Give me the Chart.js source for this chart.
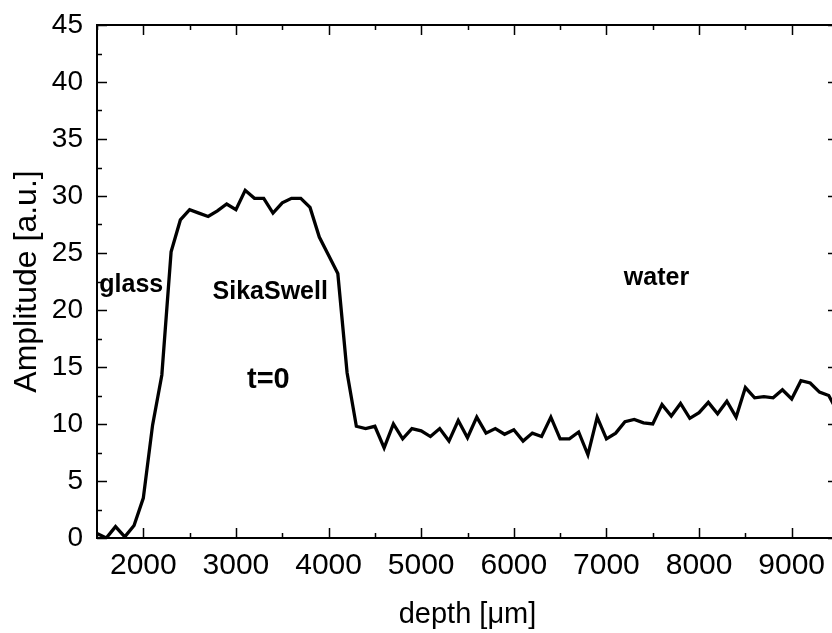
<!DOCTYPE html>
<html>
<head>
<meta charset="utf-8">
<script src="https://cdn.jsdelivr.net/npm/chart.js@4/dist/chart.umd.min.js"></script>
<style>
  html, body { margin: 0; padding: 0; background: #fff; overflow: hidden; }
  canvas { display: block; }
</style>
</head>
<body>
<canvas id="chart" width="842" height="633"></canvas>
<script>
// depth in micrometres, one sample every 100 um
const depth = [
  1500, 1600, 1700, 1800, 1900, 2000, 2100, 2200, 2300, 2400,
  2500, 2600, 2700, 2800, 2900, 3000, 3100, 3200, 3300, 3400,
  3500, 3600, 3700, 3800, 3900, 4000, 4100, 4200, 4300, 4400,
  4500, 4600, 4700, 4800, 4900, 5000, 5100, 5200, 5300, 5400,
  5500, 5600, 5700, 5800, 5900, 6000, 6100, 6200, 6300, 6400,
  6500, 6600, 6700, 6800, 6900, 7000, 7100, 7200, 7300, 7400,
  7500, 7600, 7700, 7800, 7900, 8000, 8100, 8200, 8300, 8400,
  8500, 8600, 8700, 8800, 8900, 9000, 9100, 9200, 9300, 9400,
  9500
];
const amplitude = [
  0.4, 0.0, 1.0, 0.1, 1.1, 3.5, 9.9, 14.3, 25.1, 27.9,
  28.8, 28.5, 28.2, 28.7, 29.3, 28.8, 30.5, 29.8, 29.8, 28.5,
  29.4, 29.8, 29.8, 29.0, 26.4, 24.8, 23.2, 14.5, 9.8, 9.6,
  9.8, 7.9, 10.0, 8.7, 9.6, 9.4, 8.9, 9.6, 8.5, 10.3,
  8.8, 10.6, 9.2, 9.6, 9.1, 9.5, 8.5, 9.2, 8.9, 10.6,
  8.7, 8.7, 9.3, 7.3, 10.6, 8.7, 9.2, 10.2, 10.4, 10.1,
  10.0, 11.7, 10.7, 11.8, 10.5, 11.0, 11.9, 10.9, 12.0, 10.6,
  13.2, 12.3, 12.4, 12.3, 13.0, 12.2, 13.8, 13.6, 12.8, 12.5,
  11.0
];

const xMajor = [2000, 3000, 4000, 5000, 6000, 7000, 8000, 9000];
const xMinor = [1500, 2500, 3500, 4500, 5500, 6500, 7500, 8500, 9500];
const yMajor = [0, 5, 10, 15, 20, 25, 30, 35, 40, 45];
const yMinor = [2.5, 7.5, 12.5, 17.5, 22.5, 27.5, 32.5, 37.5, 42.5];

// region labels written inside the plot
const noteText = ['glass', 'SikaSwell', 't=0', 'water'];
const noteX = [1870, 3370, 3350, 7540];
const noteY = [21.6, 21.0, 13.2, 22.2];
const noteSize = [25, 25, 29, 25];

const FONT = "'Liberation Sans', Arial, Helvetica, sans-serif";

// closed box with inward ticks on all four sides
const frame = {
  id: 'frame',
  afterDatasetsDraw(chart) {
    const { ctx, chartArea: a, scales: { x, y } } = chart;
    ctx.save();
    ctx.strokeStyle = '#000';
    ctx.lineWidth = 2;
    ctx.strokeRect(a.left, a.top, a.right - a.left, a.bottom - a.top);
    ctx.lineWidth = 1.5;
    ctx.beginPath();
    const xt = (v, len) => {
      const px = Math.round(x.getPixelForValue(v)) + 0.5;
      ctx.moveTo(px, a.bottom); ctx.lineTo(px, a.bottom - len);
      ctx.moveTo(px, a.top); ctx.lineTo(px, a.top + len);
    };
    const yt = (v, len) => {
      const py = Math.round(y.getPixelForValue(v)) + 0.5;
      ctx.moveTo(a.left, py); ctx.lineTo(a.left + len, py);
      ctx.moveTo(a.right, py); ctx.lineTo(a.right - len, py);
    };
    xMajor.forEach(v => xt(v, 10));
    xMinor.forEach(v => xt(v, 5));
    yMajor.forEach(v => yt(v, 10));
    yMinor.forEach(v => yt(v, 5));
    ctx.stroke();
    ctx.restore();
  }
};

const notes = {
  id: 'notes',
  afterDatasetsDraw(chart) {
    const { ctx, scales: { x, y } } = chart;
    ctx.save();
    ctx.fillStyle = '#000';
    ctx.textAlign = 'center';
    ctx.textBaseline = 'alphabetic';
    noteText.forEach((t, i) => {
      ctx.font = 'bold ' + noteSize[i] + 'px ' + FONT;
      ctx.fillText(t, x.getPixelForValue(noteX[i]), y.getPixelForValue(noteY[i]));
    });
    ctx.restore();
  }
};

new Chart(document.getElementById('chart'), {
  type: 'line',
  data: {
    datasets: [{
      data: depth.map((d, i) => ({ x: d, y: amplitude[i] })),
      borderColor: '#000',
      borderWidth: 3.3,
      pointRadius: 0,
      tension: 0,
      fill: false
    }]
  },
  options: {
    responsive: false,
    animation: false,
    layout: { padding: { top: 25, right: 4, left: 0, bottom: 0 } },
    plugins: { legend: { display: false }, tooltip: { enabled: false } },
    scales: {
      x: {
        type: 'linear',
        min: 1500,
        max: 9500,
        afterBuildTicks: s => { s.ticks = xMajor.map(v => ({ value: v })); },
        afterFit: s => { s.height = 95; },
        grid: { display: false, drawTicks: false },
        border: { display: false },
        ticks: {
          color: '#000',
          font: { family: FONT, size: 30 },
          padding: 10,
          maxRotation: 0,
          autoSkip: false,
          callback: v => String(v)
        },
        title: {
          display: true,
          text: 'depth [μm]',
          color: '#000',
          font: { family: FONT, size: 29 },
          padding: { top: 0, bottom: 1 }
        }
      },
      y: {
        min: 0,
        max: 45,
        afterBuildTicks: s => { s.ticks = yMajor.map(v => ({ value: v })); },
        afterFit: s => { s.width = 97; s.paddingTop = 0; s.paddingBottom = 0; },
        grid: { display: false, drawTicks: false },
        border: { display: false },
        ticks: {
          color: '#000',
          font: { family: FONT, size: 28 },
          padding: 14
        },
        title: {
          display: true,
          text: 'Amplitude [a.u.]',
          color: '#000',
          font: { family: FONT, size: 32 },
          padding: { top: 8, bottom: 0 }
        }
      }
    }
  },
  plugins: [frame, notes]
});
</script>
</body>
</html>
